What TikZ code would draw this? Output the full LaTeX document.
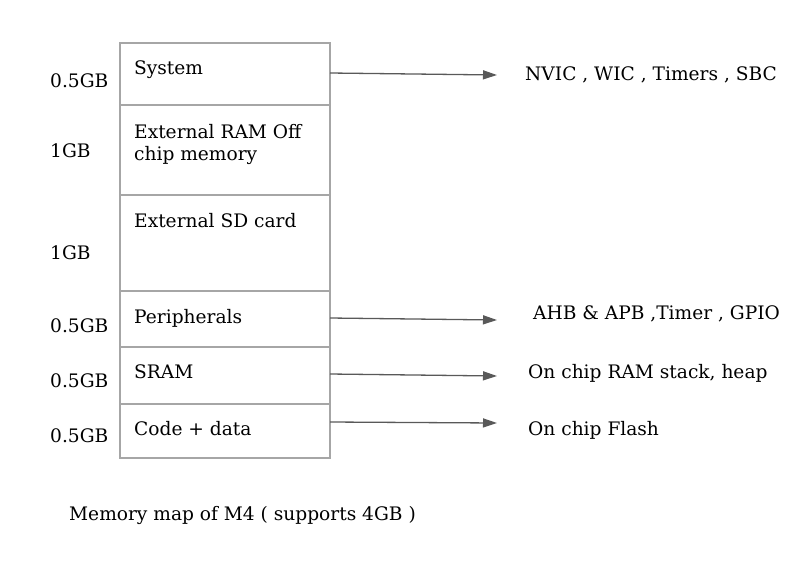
\documentclass[tikz,border=0pt]{standalone}
\usepackage{fontspec}
\setmainfont{DejaVu Serif}
\usepackage{tikz}
\usetikzlibrary{arrows.meta}
\begin{document}
\begin{tikzpicture}[x=1pt,y=-1pt]
	\tikzstyle{cell} = [draw=black!35, line width=1.2]
	\tikzstyle{link} = [draw=black!65, line width=1.3, -{Triangle[length=14pt,width=9pt]}]
	\tikzstyle{txt} = [anchor=base west, inner sep=0pt, align=left, font=\fontsize{18.6}{22}\selectfont]
	\useasboundingbox (0,0) rectangle (810,565);
	\draw [cell] (120,43) rectangle (330,105);
	\draw [cell] (120,105) rectangle (330,195);
	\draw [cell] (120,195) rectangle (330,291);
	\draw [cell] (120,291) rectangle (330,347);
	\draw [cell] (120,347) rectangle (330,404);
	\draw [cell] (120,404) rectangle (330,458);
		\node[txt] (sys) at (134,74) {System};
		\node[txt] (ext) at (134,160) {External RAM Off\\chip memory};
		\node[txt] (sd) at (134,227) {External SD card};
		\node[txt] (per) at (134,323) {Peripherals};
		\node[txt] (sram) at (134,378) {SRAM};
		\node[txt] (code) at (134,435) {Code + data};
		\node[txt] (gsys) at (50,87) {0.5GB};
		\node[txt] (gext) at (50,157) {1GB};
		\node[txt] (gsd) at (50,259) {1GB};
		\node[txt] (gper) at (50,332) {0.5GB};
		\node[txt] (gsram) at (50,387) {0.5GB};
		\node[txt] (gcode) at (50,442) {0.5GB};
		\node[txt] (nvic) at (525,80) {NVIC , WIC , Timers , SBC};
		\node[txt] (ahb) at (533,319) {AHB \& APB ,Timer , GPIO};
		\node[txt] (ram) at (528,378) {On chip RAM stack, heap};
		\node[txt] (flash) at (528,435) {On chip Flash};
		\node[txt] (cap) at (69,520) {Memory map of M4 ( supports 4GB )};
	\coordinate (s1) at (330,73); \coordinate (t1) at (497,75);
	\coordinate (s2) at (330,318); \coordinate (t2) at (497,320);
	\coordinate (s3) at (330,374); \coordinate (t3) at (497,376);
	\coordinate (s4) at (330,422); \coordinate (t4) at (497,423);
	\draw [link] (s1) -- (t1);
	\draw [link] (s2) -- (t2);
	\draw [link] (s3) -- (t3);
	\draw [link] (s4) -- (t4);
\end{tikzpicture}
\end{document}
